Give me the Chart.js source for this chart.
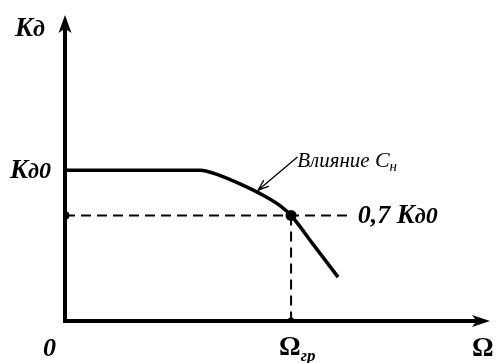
<!DOCTYPE html>
<html>
<head>
<meta charset="utf-8">
<script src="https://cdn.jsdelivr.net/npm/chart.js@4/dist/chart.umd.min.js"></script>
<style>
  html, body { margin: 0; padding: 0; background: #fff; }
  #wrap { width: 496px; height: 363px; }
</style>
</head>
<body>
<div id="wrap"><canvas id="chart"></canvas></div>
<script>
// Frequency response K_d(Omega): flat at K_d0, rolling off past the knee
const OMEGA = [0, 0.597, 0.686, 0.774, 0.863, 0.951, 1.0, 1.097, 1.208];
const KD = [1, 1, 0.965, 0.91, 0.845, 0.765, 0.7, 0.51, 0.291];

const LEVEL_07 = 0.7;      // 0,7 K_d0
const OMEGA_GR = 1.0;      // cutoff frequency
const DASH_END = 1.26;     // where the 0,7 line stops
const X_MAX = 1.88;
const Y_MAX = 2.03;

// note arrow: from text to the curve
const NOTE_FROM = { x: 1.027, y: 1.086 };
const NOTE_TO = { x: 0.854, y: 0.868 };

const SERIF = '"Liberation Serif", "DejaVu Serif", serif';

function drawPieces(ctx, x, y, pieces) {
  // pieces: [text, font, dy]
  let cx = x;
  pieces.forEach(([t, f, dy]) => {
    ctx.font = f;
    ctx.fillText(t, cx, y + (dy || 0));
    cx += ctx.measureText(t).width;
  });
}

function arrowHead(ctx, tipX, tipY, angle, len, half) {
  ctx.save();
  ctx.translate(tipX, tipY);
  ctx.rotate(angle);
  ctx.beginPath();
  ctx.moveTo(0, 0);
  ctx.lineTo(-len, -half);
  ctx.lineTo(-len * 0.75, 0);
  ctx.lineTo(-len, half);
  ctx.closePath();
  ctx.fill();
  ctx.restore();
}

const axesPlugin = {
  id: 'axesPlugin',
  beforeDatasetsDraw(chart) {
    const { ctx } = chart;
    const xs = chart.scales.x;
    const ys = chart.scales.y;
    const x0 = xs.getPixelForValue(0);
    const y0 = ys.getPixelForValue(0);
    const xEnd = xs.getPixelForValue(X_MAX);
    const yTop = ys.getPixelForValue(Y_MAX);

    ctx.save();
    ctx.strokeStyle = '#000';
    ctx.fillStyle = '#000';
    ctx.lineWidth = 4;
    ctx.lineCap = 'square';
    ctx.beginPath();
    ctx.moveTo(x0, yTop + 10);
    ctx.lineTo(x0, y0);
    ctx.lineTo(xEnd - 10, y0);
    ctx.stroke();
    arrowHead(ctx, x0, yTop, -Math.PI / 2, 18, 6.5);
    arrowHead(ctx, xEnd, y0, 0, 18, 6);
    ctx.restore();
  },
  afterDatasetsDraw(chart) {
    const { ctx } = chart;
    const xs = chart.scales.x;
    const ys = chart.scales.y;
    const x0 = xs.getPixelForValue(0);
    const y0 = ys.getPixelForValue(0);
    const xEnd = xs.getPixelForValue(X_MAX);
    const yTop = ys.getPixelForValue(Y_MAX);

    ctx.save();
    ctx.strokeStyle = '#000';
    ctx.fillStyle = '#000';

    // note arrow (thin, open head)
    const fx = xs.getPixelForValue(NOTE_FROM.x), fy = ys.getPixelForValue(NOTE_FROM.y);
    const tx = xs.getPixelForValue(NOTE_TO.x), ty = ys.getPixelForValue(NOTE_TO.y);
    const ang = Math.atan2(ty - fy, tx - fx);
    ctx.lineWidth = 1.3;
    ctx.lineCap = 'round';
    ctx.beginPath();
    ctx.moveTo(fx, fy);
    ctx.lineTo(tx, ty);
    ctx.moveTo(tx - 11 * Math.cos(ang - 0.35), ty - 11 * Math.sin(ang - 0.35));
    ctx.lineTo(tx, ty);
    ctx.lineTo(tx - 11 * Math.cos(ang + 0.35), ty - 11 * Math.sin(ang + 0.35));
    ctx.stroke();

    // labels
    ctx.textBaseline = 'alphabetic';
    const bi = (s) => `italic bold ${s}px ${SERIF}`;
    const it = (s) => `italic ${s}px ${SERIF}`;
    const b = (s) => `bold ${s}px ${SERIF}`;
    const yK0 = ys.getPixelForValue(1);
    const y07 = ys.getPixelForValue(LEVEL_07);
    const xGr = xs.getPixelForValue(OMEGA_GR);
    const xDash = xs.getPixelForValue(DASH_END);

    drawPieces(ctx, x0 - 50, yTop + 21, [['K', bi(27)], ['д', bi(24)]]);
    drawPieces(ctx, x0 - 55, yK0 + 8, [['K', bi(27)], ['д', bi(22)], ['0', bi(24)]]);
    drawPieces(ctx, xDash + 8, y07 + 8, [['0,7 ', bi(26)], ['K', bi(27)], ['д', bi(22)], ['0', bi(24)]]);
    drawPieces(ctx, x0 - 22, y0 + 35, [['0', bi(26)]]);
    drawPieces(ctx, xGr - 12, y0 + 34, [['Ω', b(27)], ['гр', bi(17), 6]]);
    drawPieces(ctx, xEnd - 18, y0 + 35, [['Ω', b(27)]]);
    drawPieces(ctx, fx, fy + 10, [['Влияние ', it(21)], ['C', it(22)], ['н', it(15), 4]]);
    ctx.restore();
  },
};

new Chart(document.getElementById('chart'), {
  type: 'scatter',
  data: {
    datasets: [
      {
        // response curve
        type: 'line',
        data: OMEGA.map((x, i) => ({ x, y: KD[i] })),
        borderColor: '#000',
        borderWidth: 3.5,
        pointRadius: 0,
        cubicInterpolationMode: 'monotone',
      },
      {
        // 0,7 level
        type: 'line',
        data: [{ x: 0, y: LEVEL_07 }, { x: DASH_END, y: LEVEL_07 }],
        borderColor: '#000',
        borderWidth: 2,
        borderDash: [10, 6],
        pointRadius: 0,
      },
      {
        // cutoff drop line
        type: 'line',
        data: [{ x: OMEGA_GR, y: LEVEL_07 }, { x: OMEGA_GR, y: 0 }],
        borderColor: '#000',
        borderWidth: 2,
        borderDash: [10, 6],
        pointRadius: 0,
      },
      {
        // marked points
        data: [{ x: 0, y: LEVEL_07 }, { x: OMEGA_GR, y: LEVEL_07 }, { x: OMEGA_GR, y: 0 }],
        backgroundColor: '#000',
        borderWidth: 0,
        pointRadius: [4.5, 5.5, 3.5],
      },
    ],
  },
  options: {
    responsive: true,
    maintainAspectRatio: false,
    animation: false,
    layout: { padding: { left: 65, right: 6, top: 15, bottom: 42 } },
    scales: {
      x: { type: 'linear', min: 0, max: X_MAX, display: false },
      y: { type: 'linear', min: 0, max: Y_MAX, display: false },
    },
    plugins: { legend: { display: false }, tooltip: { enabled: false } },
  },
  plugins: [axesPlugin],
});
</script>
</body>
</html>
